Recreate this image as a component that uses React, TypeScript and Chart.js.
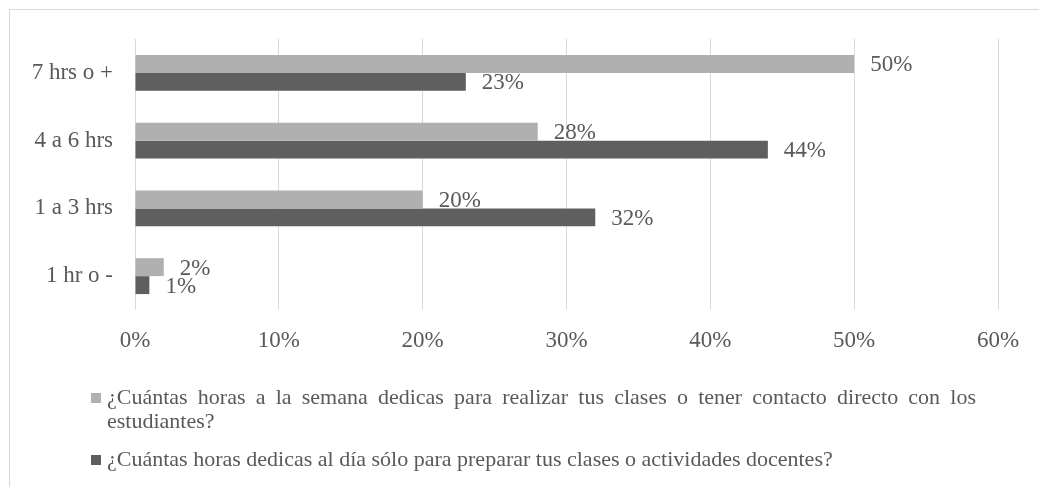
import React, { useEffect, useRef } from "react";
import { Chart, registerables } from "chart.js";

Chart.register(...registerables);

const categories = ["7 hrs o +", "4 a 6 hrs", "1 a 3 hrs", "1 hr o -"];
const seriesNames = [
  "¿Cuántas horas a la semana dedicas para realizar tus clases o tener contacto directo con los estudiantes?",
  "¿Cuántas horas dedicas al día sólo para preparar tus clases o actividades docentes?",
];
const weeklyHours = [50, 28, 20, 2];
const dailyHours = [23, 44, 32, 1];
const xTicks = [0, 10, 20, 30, 40, 50, 60];

const FONT_FAMILY = "'Liberation Serif', 'Times New Roman', serif";
const AXIS_SIZE = 23;
const LEGEND_SIZE = 22;
const TEXT_COLOR = "#595959";
const LIGHT = "#b0b0b0";
const DARK = "#5f5f5f";
const GRID = "#d9d9d9";

function drawLabels(chart: any, dsIndex: number) {
  const ctx = chart.ctx;
  const meta = chart.getDatasetMeta(dsIndex);
  const data = chart.data.datasets[dsIndex].data as number[];
  ctx.save();
  ctx.font = `${AXIS_SIZE}px ${FONT_FAMILY}`;
  ctx.fillStyle = TEXT_COLOR;
  ctx.textAlign = "left";
  ctx.textBaseline = "middle";
  meta.data.forEach((el: any, i: number) => {
    ctx.fillText(`${data[i]}%`, el.x + 16, el.y + 1.5);
  });
  ctx.restore();
}

const labelsPlugin = {
  id: "barLabels",
  beforeDatasetsDraw(chart: any) {
    drawLabels(chart, 0);
  },
  afterDatasetsDraw(chart: any) {
    drawLabels(chart, 1);
  },
};

function wrap(ctx: CanvasRenderingContext2D, text: string, maxWidth: number) {
  const words = text.split(" ");
  const lines: string[] = [];
  let cur = "";
  for (const w of words) {
    const test = cur ? cur + " " + w : w;
    if (ctx.measureText(test).width > maxWidth && cur) {
      lines.push(cur);
      cur = w;
    } else {
      cur = test;
    }
  }
  if (cur) lines.push(cur);
  return lines;
}

function drawJustified(ctx: CanvasRenderingContext2D, line: string, x: number, y: number, width: number) {
  const words = line.split(" ");
  const wordsWidth = words.reduce((s, w) => s + ctx.measureText(w).width, 0);
  const gap = words.length > 1 ? (width - wordsWidth) / (words.length - 1) : 0;
  let cx = x;
  words.forEach((w) => {
    ctx.fillText(w, cx, y);
    cx += ctx.measureText(w).width + gap;
  });
}

const LEGEND_WRAP = 870;

const framePlugin = {
  id: "frameAndLegend",
  beforeDraw(chart: any) {
    const ctx = chart.ctx;
    ctx.save();
    ctx.strokeStyle = GRID;
    ctx.lineWidth = 1;
    ctx.strokeRect(9.5, 9.5, chart.width + 50, chart.height + 50);
    ctx.restore();
  },
  afterDraw(chart: any) {
    const ctx = chart.ctx;
    ctx.save();
    ctx.font = `${LEGEND_SIZE}px ${FONT_FAMILY}`;
    ctx.textAlign = "left";
    ctx.textBaseline = "middle";
    let y = 398;
    chart.data.datasets.forEach((ds: any) => {
      const lines = wrap(ctx, ds.label, LEGEND_WRAP);
      ctx.fillStyle = ds.backgroundColor;
      ctx.fillRect(91, y - 5, 10, 10);
      ctx.fillStyle = TEXT_COLOR;
      lines.forEach((ln, k) => {
        if (k < lines.length - 1) {
          drawJustified(ctx, ln, 107, y + k * 24, LEGEND_WRAP - 1);
        } else {
          ctx.fillText(ln, 107, y + k * 24);
        }
      });
      y += (lines.length - 1) * 24 + 38;
    });
    ctx.restore();
  },
};

export default function App() {
  const ref = useRef<HTMLCanvasElement | null>(null);
  useEffect(() => {
    if (!ref.current) return;
    const chart = new Chart(ref.current, {
      type: "bar",
      data: {
        labels: categories,
        datasets: [
          {
            label: seriesNames[0],
            data: weeklyHours,
            backgroundColor: LIGHT,
            barPercentage: 1,
            categoryPercentage: 0.53,
          },
          {
            label: seriesNames[1],
            data: dailyHours,
            backgroundColor: DARK,
            barPercentage: 1,
            categoryPercentage: 0.53,
          },
        ],
      },
      options: {
        indexAxis: "y",
        animation: false,
        responsive: false,
        devicePixelRatio: 1,
        layout: { padding: { top: 39, right: 41, left: 0, bottom: 0 } },
        plugins: {
          legend: { display: false },
          tooltip: { enabled: false },
        },
        scales: {
          x: {
            min: xTicks[0],
            max: xTicks[xTicks.length - 1],
            afterBuildTicks: (scale: any) => {
              scale.ticks = xTicks.map((v) => ({ value: v }));
            },
            afterFit: (scale: any) => {
              scale.height = 177;
            },
            grid: { color: GRID, drawTicks: false, lineWidth: 1 },
            border: { display: false },
            ticks: {
              padding: 17,
              color: TEXT_COLOR,
              font: { family: FONT_FAMILY, size: AXIS_SIZE },
              callback: (v: any) => `${v}%`,
            },
          },
          y: {
            afterFit: (scale: any) => {
              scale.width = 135;
            },
            grid: { display: false, drawTicks: false },
            border: { display: false },
            ticks: {
              padding: 22,
              color: TEXT_COLOR,
              font: { family: FONT_FAMILY, size: AXIS_SIZE },
            },
          },
        },
      },
      plugins: [framePlugin, labelsPlugin],
    });
    return () => chart.destroy();
  }, []);
  return (
    <div style={{ position: "fixed", left: 0, top: 0, width: 1039, height: 487, background: "#fff" }}>
      <canvas ref={ref} width={1039} height={487} style={{ display: "block" }} />
    </div>
  );
}
